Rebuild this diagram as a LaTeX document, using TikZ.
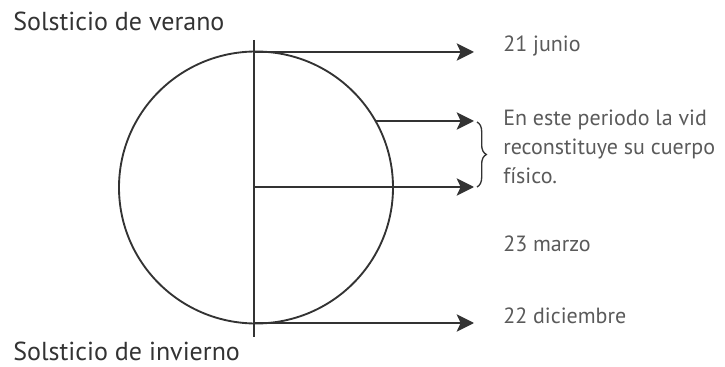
\documentclass[tikz,border=0pt]{standalone}
\usepackage{fontspec}
\setmainfont{PT Sans}
\usetikzlibrary{arrows.meta,decorations.pathreplacing}
\definecolor{trait}{HTML}{333333}
\definecolor{texte}{HTML}{5A5A5A}
\begin{document}
\begin{tikzpicture}[x=0.75pt,y=-0.75pt,
	fleche/.style={trait,line width=1.5pt,-{Stealth[length=13pt,width=13pt,inset=3pt]}},
	date/.style={anchor=base west,inner sep=0pt,text=texte,font=\fontsize{16.5}{22}\selectfont},
	titre/.style={anchor=base west,inner sep=0pt,text=trait,font=\fontsize{19.5}{20}\selectfont}]
\useasboundingbox (0,0) rectangle (725,367);
%					Tracé du cercle et de l'axe :
\draw[trait,line width=1.4pt] (256,187.5) ellipse [x radius=137,y radius=136];
\coordinate (haut) at (254,40);
\coordinate (bas) at (254,337);
\draw[trait,line width=1.4pt] (haut) -- (bas);
%					Points de départ et d'arrivée des flèches :
\coordinate (d1) at (254,52);
\coordinate (d2) at (375,121);
\coordinate (d3) at (254,187);
\coordinate (d4) at (254,323);
\coordinate (a1) at (474,52);
\coordinate (a2) at (474,121);
\coordinate (a3) at (474,187);
\coordinate (a4) at (474,323);
%					Tracé des flèches :
\draw[fleche] (d1) -- (a1);
\draw[fleche] (d2) -- (a2);
\draw[fleche] (d3) -- (a3);
\draw[fleche] (d4) -- (a4);
%					Accolade :
\coordinate (acc1) at (477,122);
\coordinate (acc2) at (477,187);
\draw[trait,line width=1pt,decorate,decoration={brace,amplitude=7pt}] (acc1) -- (acc2);
%					Textes :
\node[titre] (verano) at (13,31) {Solsticio de verano};
\node[titre] (invierno) at (13,360) {Solsticio de invierno};
\node[date] (junio) at (503,52) {21 junio};
\node[date,align=left] (vid) at (503,184) {En este periodo la vid\\reconstituye su cuerpo\\físico.};
\node[date] (marzo) at (503,252) {23 marzo};
\node[date] (diciembre) at (503,323) {22 diciembre};
\end{tikzpicture}
\end{document}
